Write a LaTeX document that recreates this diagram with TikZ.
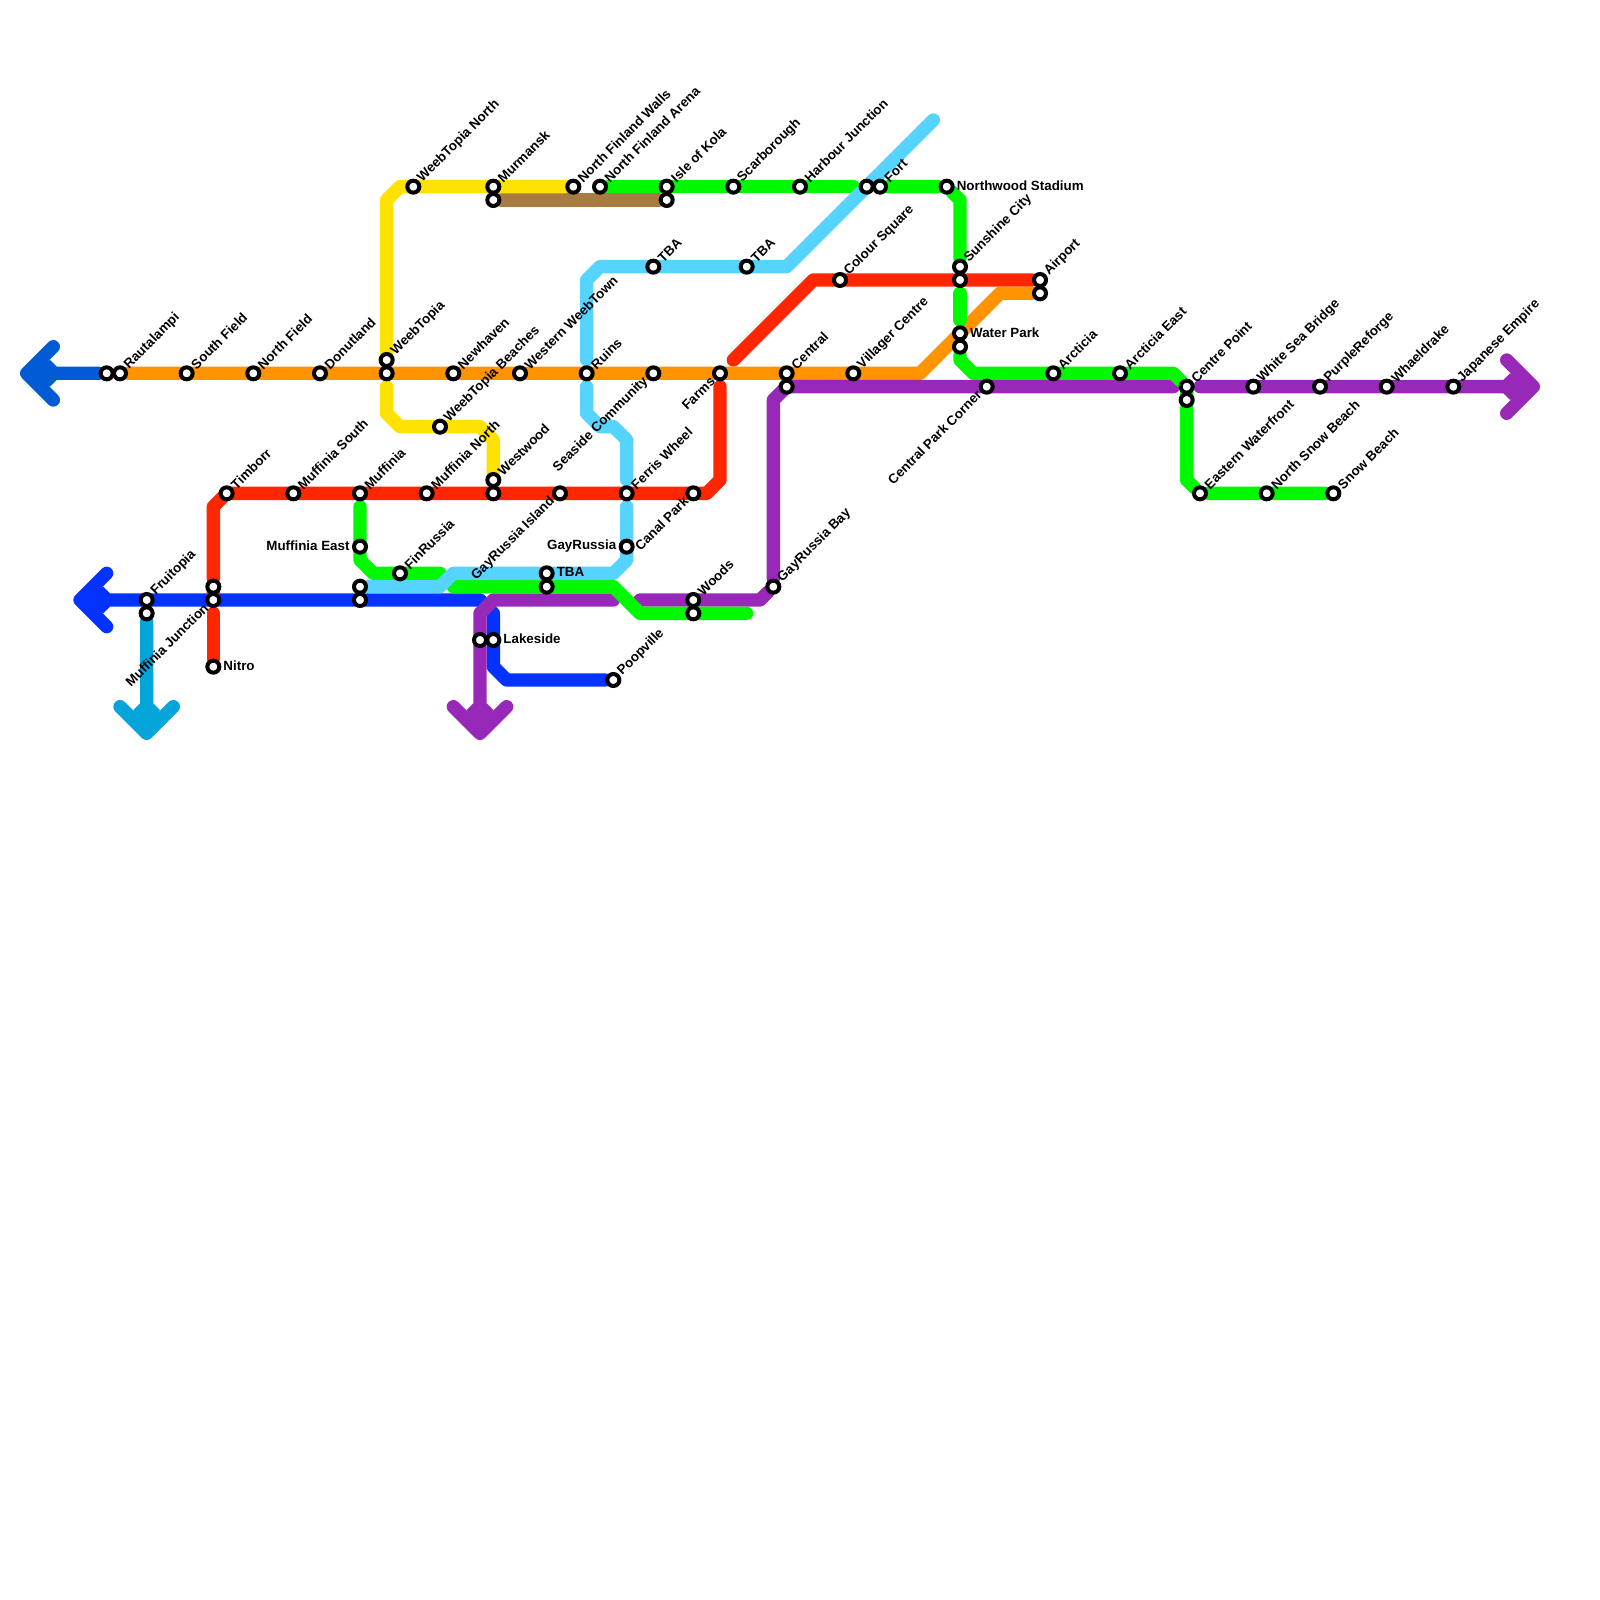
\documentclass[tikz,border=0pt]{standalone}
\usepackage{fontspec}
\setmainfont{Liberation Sans}
\usetikzlibrary{backgrounds}
\definecolor{royalline}{RGB}{0,91,213}
\definecolor{blueline}{RGB}{4,50,255}
\definecolor{cyanline}{RGB}{3,165,219}
\definecolor{skyline}{RGB}{85,212,255}
\definecolor{orangeline}{RGB}{255,147,0}
\definecolor{redline}{RGB}{255,38,0}
\definecolor{greenline}{RGB}{0,249,0}
\definecolor{yellowline}{RGB}{255,226,0}
\definecolor{purpleline}{RGB}{152,41,184}
\definecolor{brownline}{RGB}{169,122,65}
\tikzset{
  stn/.style={circle, draw=black, fill=white, line width=0.06cm, minimum size=0.18cm, inner sep=0pt},
  lab/.style={inner sep=0pt, text=black, font=\fontsize{5.7}{6}\selectfont\bfseries},
  labur/.style={lab, rotate=45, anchor=west, xshift=0.135cm, yshift=0cm},
  labll/.style={lab, rotate=45, anchor=east, xshift=-0.135cm, yshift=0.015cm},
  labr/.style={lab, anchor=west, xshift=0.145cm, yshift=0.015cm},
  labl/.style={lab, anchor=east, xshift=-0.15cm, yshift=0.015cm},
  ln/.style={line width=0.2cm, line cap=round, line join=round},
  headfill/.pic={\path[pic actions] (0,0) -- (1.75,-1) -- (2.25,-0.5) -- (2.25,0.5) -- (1.75,1) -- cycle;}
}
\begin{document}
\begin{tikzpicture}[x=0.2cm, y=-0.2cm]
  \useasboundingbox (0,0) rectangle (120,120);
  % stations with a name
  \foreach \n/\x/\y/\s/\t in {
    rb/9/28/labur/Rautalampi, sf/14/28/labur/South Field, nf/19/28/labur/North Field,
    dl/24/28/labur/Donutland, wa/29/27/labur/WeebTopia, nh/34/28/labur/Newhaven,
    wt/39/28/labur/Western WeebTown, rn/44/28/labur/Ruins, sc/49/28/labll/Seaside Community,
    fa/54/28/labll/Farms, ce/59/28/labur/Central, vc/64/28/labur/Villager Centre,
    wn/31/14/labur/WeebTopia North, ma/37/14/labur/Murmansk,
    fw/43/14/labur/North Finland Walls, fn/45/14/labur/North Finland Arena,
    ka/50/14/labur/Isle of Kola, sb/55/14/labur/Scarborough, hj/60/14/labur/Harbour Junction,
    ft/66/14/labur/Fort, ns/71/14/labr/Northwood Stadium,
    ta/49/20/labur/TBA, tb/56/20/labur/TBA, cs/63/21/labur/Colour Square,
    sa/72/20/labur/Sunshine City, wp/72/25/labr/Water Park,
    aa/78/21/labur/Airport, wc/33/32/labur/WeebTopia Beaches,
    tm/17/37/labur/Timborr, ms/22/37/labur/Muffinia South, mu/27/37/labur/Muffinia,
    mn/32/37/labur/Muffinia North, wo/37/36/labur/Westwood,
    gi/42/37/labll/GayRussia Island, fe/47/37/labur/Ferris Wheel, cp/52/37/labll/Canal Park,
    me/27/41/labl/Muffinia East, gr/47/41/labl/GayRussia, fr/30/43/labur/FinRussia,
    tc/41/43/labr/TBA, fu/11/45/labur/Fruitopia, mj/16/45/labll/Muffinia Junction,
    ni/16/50/labr/Nitro, lb/37/48/labr/Lakeside, po/46/51/labur/Poopville,
    wa2/52/45/labur/Woods, gb/58/44/labur/GayRussia Bay,
    cc/74/29/labll/Central Park Corner, ar/79/28/labur/Arcticia, ae/84/28/labur/Arcticia East,
    cn/89/29/labur/Centre Point, ws/94/29/labur/White Sea Bridge,
    pr/99/29/labur/PurpleReforge, wh/104/29/labur/Whaeldrake, je/109/29/labur/Japanese Empire,
    ew/90/37/labur/Eastern Waterfront, nb/95/37/labur/North Snow Beach, bs/100/37/labur/Snow Beach}
    {\node[stn] (\n) at (\x,\y) {};
     \node[\s] (\n-t) at (\n) {\t};}
  % stations without one
  \foreach \n/\x/\y in {
    ra/8/28, wb/29/28, cf/59/29, mb/37/15, kb/50/15, fo/65/14, sd/72/21, wq/72/26, ab/78/22,
    wd/37/37, td/41/44, mc/27/44, md/27/45, fv/11/46, ja/16/44, la/36/48, wb2/52/46, co/89/30}
    \node[stn] (\n) at (\x,\y) {};
  % bends and free ends
  \foreach \n/\x/\y in {
    r1/4/26, r2/2/28, r3/4/30, b1/8/43, b2/6/45, b3/8/47, b4/36/45, b5/37/46, b6/37/50, b7/38/51,
    c1/11/54, c2/9/53, c3/11/55, c4/13/53, p1/34/53, p2/36/55, p3/38/53, p4/36/46, p5/37/45, p6/46/45,
    p7/48/45, p8/57/45, p9/58/30, p10/59/29, p11/88/29, p12/90/29, p13/113/27, p14/115/29, p15/113/31,
    o1/69/28, o2/75/22, y1/29/15, y2/30/14, y3/29/29, y4/29/31, y5/30/32, y6/36/32, y7/37/33,
    d1/16/38, d2/17/37, d3/16/46, d4/53/37, d5/54/36, d6/54/29, d7/55/27, d8/61/21,
    s1/70/9, s2/59/20, s3/45/20, s4/44/21, s5/44/27, s6/44/29, s7/44/31, s8/45/32, s9/46/32, s10/47/33,
    s11/47/36, s12/47/38, s13/47/42, s14/46/43, s15/34/43, s16/33/44,
    g1/64/14, g2/72/15, g3/72/22, g4/72/24, g5/72/27, g6/73/28, g7/88/28, g8/89/36,
    g9/27/38, g10/27/42, g11/28/43, g12/33/43, g13/34/44, g14/46/44, g15/48/46, g16/56/46}
    \coordinate (\n) at (\x,\y);
  \begin{scope}[on background layer]
    \draw[ln, royalline] (r1) -- (r2) -- (r3) (r2) -- (ra);
    \pic[fill=royalline] at (r2) {headfill};
    \draw[ln, blueline] (b1) -- (b2) -- (b3) (b2) -- (b4) -- (b5) -- (b6) -- (b7) -- (po);
    \pic[fill=blueline] at (b2) {headfill};
    \draw[ln, cyanline] (fv) -- (c3) (c2) -- (c3) -- (c4);
    \pic[fill=cyanline, rotate=90] at (c3) {headfill};
    \draw[ln, brownline] (mb) -- (kb);
    \draw[ln, yellowline] (wa) -- (y1) -- (y2) -- (fw);
    \draw[ln, yellowline] (y3) -- (y4) -- (y5) -- (y6) -- (y7) -- (wo);
    \draw[ln, redline] (mj) -- (ja) -- (d1) -- (d2) -- (d4) -- (d5) -- (d6);
    \draw[ln, redline] (d3) -- (ni);
    \draw[ln, redline] (d7) -- (d8) -- (aa);
    \draw[ln, orangeline] (rb) -- (o1) -- (o2) -- (ab);
    \draw[ln, purpleline] (p1) -- (p2) -- (p3) (p2) -- (p4) -- (p5) -- (p6);
    \pic[fill=purpleline, rotate=90] at (p2) {headfill};
    \draw[ln, purpleline] (p7) -- (p8) -- (gb) -- (p9) -- (p10) -- (p11);
    \draw[ln, purpleline] (p12) -- (p14) (p13) -- (p14) -- (p15);
    \pic[fill=purpleline, rotate=180] at (p14) {headfill};
    \draw[ln, greenline] (fn) -- (g1);
    \draw[ln, greenline] (ft) -- (ns) -- (g2) -- (sa);
    \draw[ln, greenline] (g3) -- (g4);
    \draw[ln, greenline] (wq) -- (g5) -- (g6) -- (g7) -- (cn) -- (co) -- (g8) -- (ew) -- (bs);
    \draw[ln, greenline] (g9) -- (g10) -- (g11) -- (g12);
    \draw[ln, greenline] (g13) -- (g14) -- (g15) -- (g16);
    \draw[ln, skyline] (s1) -- (s2) -- (s3) -- (s4) -- (s5);
    \draw[ln, skyline] (s6) -- (s7) -- (s8) -- (s9) -- (s10) -- (s11);
    \draw[ln, skyline] (s12) -- (s13) -- (s14) -- (s15) -- (s16) -- (mc);
  \end{scope}
\end{tikzpicture}
\end{document}
